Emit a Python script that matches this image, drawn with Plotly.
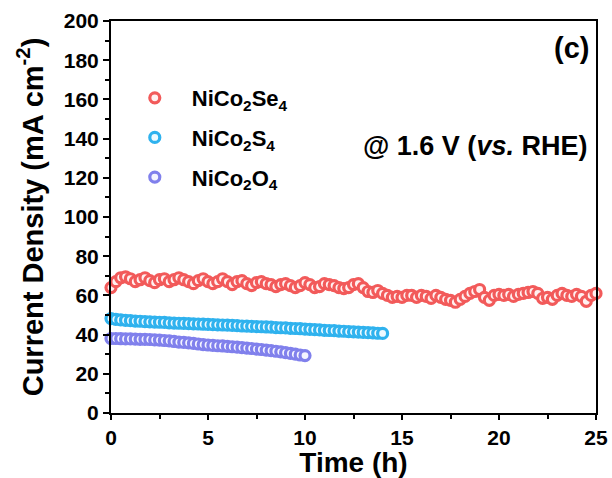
import plotly.graph_objects as go

# Time axis (h), sampling step 0.25 h
t_se = [i * 0.25 for i in range(101)]
t_s = [i * 0.25 for i in range(57)]
t_o = [i * 0.25 for i in range(41)]

nico2se4 = [64, 67, 69, 69.5, 68.5,
            67, 68, 69, 67.5,
            66.5, 68, 68.5, 67,
            68, 69, 68, 67,
            66, 67.5, 68.5, 67,
            66, 67, 68.5, 67,
            65.5, 67, 67.5, 66,
            65, 66.5, 67, 66,
            65.5, 64.5, 65.5, 66,
            65, 64, 65, 66.5,
            65.5, 64, 64.5, 66,
            65.5, 65, 64, 63.5,
            64, 65.5, 66, 64,
            62, 61.5, 62.5, 61,
            60, 59, 59.5, 59,
            60, 60, 59, 60,
            59.5, 58.5, 60, 59,
            58, 57.5, 56.5, 58,
            59.5, 61, 62, 63,
            59, 57.5, 60, 60.5,
            60, 60.5, 59.5, 60.5,
            61, 61.5, 62, 61,
            58.5, 59, 58, 60,
            61, 60, 59.5, 60.5,
            59.5, 57, 60, 61]

nico2s4 = [48.2, 47.8, 47.5, 47.3, 47.1, 46.9, 46.8, 46.6, 46.5, 46.4,
           46.3, 46.2, 46.0, 45.9, 45.8, 45.7, 45.6, 45.5, 45.4, 45.3,
           45.2, 45.1, 45.0, 44.9, 44.8, 44.7, 44.6, 44.4, 44.3, 44.2,
           44.1, 44.0, 43.9, 43.8, 43.6, 43.5, 43.4, 43.2, 43.1, 43.0,
           42.8, 42.7, 42.5, 42.4, 42.2, 42.1, 42.0, 41.8, 41.7, 41.5,
           41.4, 41.3, 41.1, 41.0, 40.9, 40.7, 40.6]

nico2o4 = [38.0, 38.0, 37.9, 37.8, 37.8, 37.7, 37.6, 37.6, 37.5, 37.3,
           37.2, 37.0, 36.8, 36.5, 36.2, 36.0, 35.8, 35.5, 35.2, 34.9,
           34.7, 34.5, 34.3, 34.2, 34.0, 33.8, 33.6, 33.4, 33.1, 32.9,
           32.6, 32.4, 32.1, 31.8, 31.5, 31.2, 30.8, 30.4, 30.0, 29.6, 29.3]

names = ["NiCo<sub>2</sub>Se<sub>4</sub>", "NiCo<sub>2</sub>S<sub>4</sub>", "NiCo<sub>2</sub>O<sub>4</sub>"]
main_colors = ["#f25a5a", "#2fb2ee", "#8080ec"]
center_colors = ["#fff0f0", "#eefaff", "#f4f4ff"]

x_ticks = [0, 5, 10, 15, 20, 25]
y_ticks = [0, 20, 40, 60, 80, 100, 120, 140, 160, 180, 200]

fig = go.Figure()
for i, (xs, ys) in enumerate([(t_se, nico2se4), (t_s, nico2s4), (t_o, nico2o4)]):
    fig.add_trace(go.Scatter(
        x=xs, y=ys, mode="markers", name=names[i], legendgroup=str(i),
        marker=dict(size=10, color=center_colors[i],
                    line=dict(width=3.2, color=main_colors[i])),
        cliponaxis=False,
    ))

font_family = "Liberation Sans, Arial, sans-serif"
fig.update_layout(
    width=612, height=478,
    margin=dict(l=111, r=16, t=21, b=65),
    paper_bgcolor="white", plot_bgcolor="white",
    font=dict(family=font_family, color="black"),
    showlegend=True,
    legend=dict(x=0.014, y=0.857, xanchor="left", yanchor="top",
                font=dict(size=22, family=font_family, color="black", weight="bold"),
                bgcolor="rgba(0,0,0,0)", tracegroupgap=8, itemsizing="trace", itemwidth=64),
    xaxis=dict(range=[0, 25], tickvals=x_ticks, ticktext=[str(v) for v in x_ticks],
               ticks="outside", ticklen=5, tickwidth=2, tickcolor="black",
               minor=dict(dtick=2.5, ticks="outside", ticklen=4, tickwidth=2, tickcolor="black"),
               showline=True, linewidth=2, linecolor="black", mirror=True,
               showgrid=False, zeroline=False, automargin=False,
               tickfont=dict(size=21, weight="bold"),
               title=dict(text="<b>Time (h)</b>", font=dict(size=28), standoff=4)),
    yaxis=dict(range=[0, 200], tickvals=y_ticks, ticktext=[str(v) for v in y_ticks],
               ticks="outside", ticklen=6, tickwidth=2, tickcolor="black",
               minor=dict(dtick=10, ticks="outside", ticklen=4, tickwidth=2, tickcolor="black"),
               showline=True, linewidth=2, linecolor="black", mirror=True,
               showgrid=False, zeroline=False, automargin=False,
               tickfont=dict(size=21, weight="bold"),
               title=dict(text="<b>Current Density (mA cm<sup>-2</sup>)</b>", font=dict(size=29), standoff=12)),
    annotations=[
        dict(x=0.99, y=0.932, xref="paper", yref="paper", xanchor="right", yanchor="middle",
             text="<b>(c)</b>", showarrow=False, font=dict(size=29, family=font_family)),
        dict(x=0.985, y=0.68, xref="paper", yref="paper", xanchor="right", yanchor="middle",
             text="<b>@ 1.6 V (<i>vs.</i> RHE)</b>", showarrow=False, font=dict(size=27, family=font_family)),
    ],
)

fig.write_html("out.html")
